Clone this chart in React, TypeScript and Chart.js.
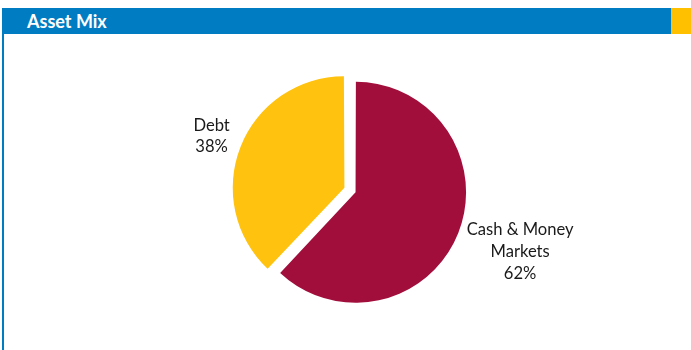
import React, { useEffect, useRef } from "react";
import { Chart, registerables } from "chart.js";

Chart.register(...registerables);

const title = "Asset Mix";
const categories = ["Cash & Money Markets", "Debt"];
const labelLines = [["Cash & Money", "Markets"], ["Debt"]];
const values = [62, 38];
const sliceColors = ["#A20E3C", "#FFC20E"];
const sliceOffsets = [8, 40];

const LABEL_FONT = "16.6px Lato";
const LINE_H = 21.6;

const outsideLabels = {
  id: "outsideLabels",
  afterDatasetsDraw(chart: any) {
    const ctx = chart.ctx;
    const meta = chart.getDatasetMeta(0);
    const data = chart.data.datasets[0].data as number[];
    const total = data.reduce((a, b) => a + b, 0);
    ctx.save();
    ctx.font = LABEL_FONT;
    ctx.fillStyle = "#1a1a1a";
    ctx.textAlign = "center";
    ctx.textBaseline = "middle";
    meta.data.forEach((arc: any, i: number) => {
      const { x, y, startAngle, endAngle, outerRadius, circumference } = arc.getProps(
        ["x", "y", "startAngle", "endAngle", "outerRadius", "circumference"],
        true
      );
      const mid = (startAngle + endAngle) / 2;
      const off = (arc.options.offset || 0) / 4;
      const fix = 1 - Math.sin(Math.min(Math.PI, circumference || 0));
      const d = outerRadius + off * (1 + fix) + 13;
      const c = Math.cos(mid);
      const s = Math.sin(mid);
      const lines = [...labelLines[i], Math.round((data[i] / total) * 100) + "%"];
      const w = Math.max(...lines.map((l) => ctx.measureText(l).width));
      const h = lines.length * LINE_H;
      const cx = x + c * d + (c * w) / 2;
      const cy = y + s * d + (s * h) / 2 + 2;
      lines.forEach((l, k) => ctx.fillText(l, cx, cy - h / 2 + LINE_H * (k + 0.5)));
    });
    ctx.restore();
  },
};

export default function App() {
  const ref = useRef<HTMLCanvasElement | null>(null);

  useEffect(() => {
    if (!ref.current) return;
    const chart = new Chart(ref.current, {
      type: "pie",
      data: {
        labels: categories,
        datasets: [
          {
            data: values,
            backgroundColor: sliceColors,
            borderWidth: 0,
            offset: sliceOffsets,
          },
        ],
      },
      options: {
        animation: false,
        responsive: false,
        devicePixelRatio: 1,
        layout: { padding: { left: 225.2, right: 208.8, top: 63, bottom: 30 } },
        plugins: {
          legend: { display: false },
          tooltip: { enabled: false },
        },
      },
      plugins: [outsideLabels],
    });
    return () => chart.destroy();
  }, []);

  return (
    <div
      style={{
        position: "fixed",
        left: 0,
        top: 0,
        width: 691,
        height: 350,
        background: "#ffffff",
        overflow: "hidden",
      }}
    >
      <canvas
        ref={ref}
        width={691}
        height={350}
        style={{ position: "absolute", left: 0, top: 0, width: 691, height: 350 }}
      />
      <div
        style={{
          position: "absolute",
          left: 2,
          top: 8,
          width: 669,
          height: 26,
          background: "#007CC2",
          display: "flex",
          alignItems: "center",
          boxSizing: "border-box",
          paddingLeft: 25,
          color: "#ffffff",
          fontFamily: "Lato, sans-serif",
          fontWeight: 700,
          fontSize: 18,
        }}
      >
        {title}
      </div>
      <div
        style={{
          position: "absolute",
          left: 671,
          top: 8,
          width: 20,
          height: 26,
          background: "#FFC000",
        }}
      />
      <div
        style={{
          position: "absolute",
          left: 2,
          top: 34,
          width: 2,
          height: 316,
          background: "#007CC2",
        }}
      />
    </div>
  );
}
